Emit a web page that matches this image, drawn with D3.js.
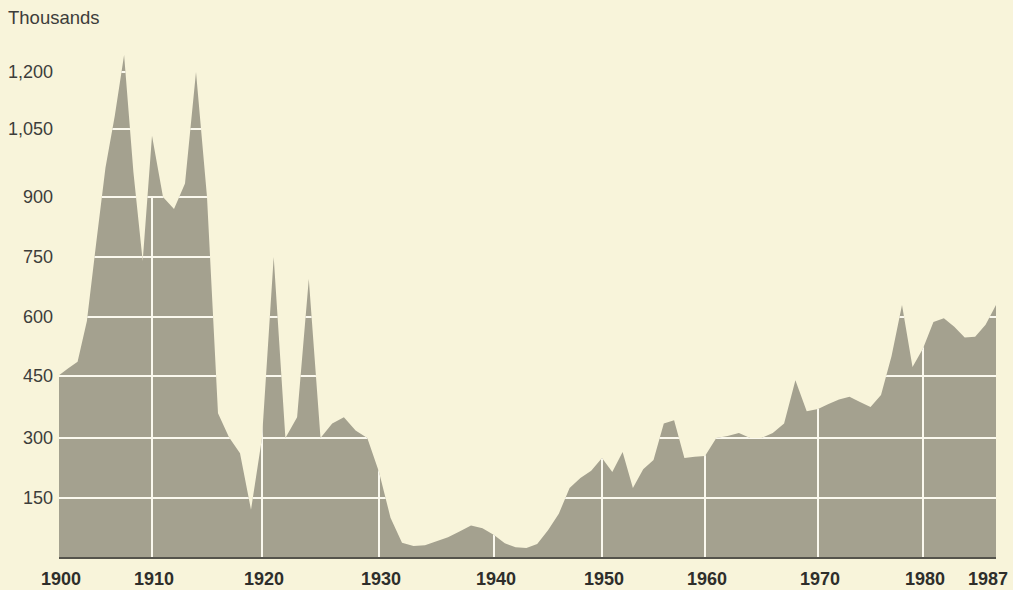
<!DOCTYPE html>
<html>
<head>
<meta charset="utf-8">
<script src="https://cdn.jsdelivr.net/npm/d3@7"></script>
<style>
  body { margin: 0; background: #f8f4da; }
  svg { display: block; font-family: 'Liberation Sans', Arial, sans-serif; }
</style>
</head>
<body>
<div id="main-content"></div>
<script>
'use strict'

// immigrants per year, thousands
const years = d3.range(1900, 1988)
const immigrants = [
	452, 470, 486, 590, 785, 965, 1085, 1245, 955, 740,
	1035, 900, 870, 930, 1200, 900, 360, 302, 262, 120,
	300, 750, 300, 350, 695, 300, 335, 350, 318, 300,
	215, 100, 36, 28, 30, 40, 50, 65, 80, 73,
	56, 35, 25, 23, 33, 68, 110, 175, 200, 218,
	250, 215, 265, 175, 222, 245, 335, 343, 250, 253,
	255, 300, 305, 312, 300, 300, 312, 335, 440, 365,
	370, 382, 393, 400, 387, 375, 404, 500, 630, 473,
	520, 587, 597, 575, 548, 550, 580, 630
]
const yTicks = [150, 300, 450, 600, 750, 900, 1050, 1200]
const xTicks = [1900, 1910, 1920, 1930, 1940, 1950, 1960, 1970, 1980, 1987]
const gridYears = [1910, 1920, 1930, 1940, 1950, 1960, 1970, 1980]

const width = 1013,
		height = 590

const data = years.map((y, i) => ({ year: y, value: immigrants[i] }))

const svg = d3.select('#main-content').append('svg')
	.attr('width', width)
	.attr('height', height)

// the original is hand drawn, decades are not evenly spaced
const x = d3.scaleLinear()
	.domain(xTicks)
	.range([59, 152, 262, 379, 494, 602, 705, 818, 923, 996])

const y = d3.scaleLinear()
	.domain([0].concat(yTicks))
	.range([557, 498, 438, 376, 317, 257, 197, 129, 72])

const area = d3.area()
	.x(d => x(d.year))
	.y0(y(0))
	.y1(d => y(d.value))

svg.append('clipPath')
	.attr('id', 'area-clip')
	.append('path')
	.datum(data)
	.attr('d', area)

svg.append('path')
	.datum(data)
	.attr('fill', '#a4a18f')
	.attr('d', area)

// white grid, only visible on the grey
const grid = svg.append('g')
	.attr('clip-path', 'url(#area-clip)')

grid.selectAll('.hgrid')
	.data(yTicks)
	.enter().append('line')
	.attr('class', 'hgrid')
	.attr('x1', x(1900))
	.attr('x2', x(1987))
	.attr('y1', d => y(d))
	.attr('y2', d => y(d))
	.attr('stroke', '#fbf9ee')
	.attr('stroke-width', 2)

grid.selectAll('.vgrid')
	.data(gridYears)
	.enter().append('line')
	.attr('class', 'vgrid')
	.attr('x1', d => x(d))
	.attr('x2', d => x(d))
	.attr('y1', y(0))
	.attr('y2', y(900))
	.attr('stroke', '#fbf9ee')
	.attr('stroke-width', 2)

svg.append('line')
	.attr('x1', x(1900))
	.attr('x2', x(1987))
	.attr('y1', y(0) + 1)
	.attr('y2', y(0) + 1)
	.attr('stroke', '#55544c')
	.attr('stroke-width', 2)

svg.append('g')
	.selectAll('text')
	.data(yTicks)
	.enter().append('text')
	.attr('x', 53)
	.attr('y', d => y(d))
	.attr('dy', '.35em')
	.attr('text-anchor', 'end')
	.attr('font-size', 18)
	.attr('fill', '#3d3d3a')
	.text(d => d3.format(',')(d))

svg.append('g')
	.selectAll('text')
	.data(xTicks)
	.enter().append('text')
	.attr('x', d => d === 1987 ? x(d) + 12 : x(d) + 2)
	.attr('y', 585)
	.attr('text-anchor', d => d === 1987 ? 'end' : 'middle')
	.attr('font-size', 18)
	.attr('font-weight', 'bold')
	.attr('fill', '#2e2e2b')
	.text(d => d)

svg.append('text')
	.attr('x', 8)
	.attr('y', 24)
	.attr('font-size', 18.5)
	.attr('fill', '#3d3d3a')
	.text('Thousands')
</script>
</body>
</html>
